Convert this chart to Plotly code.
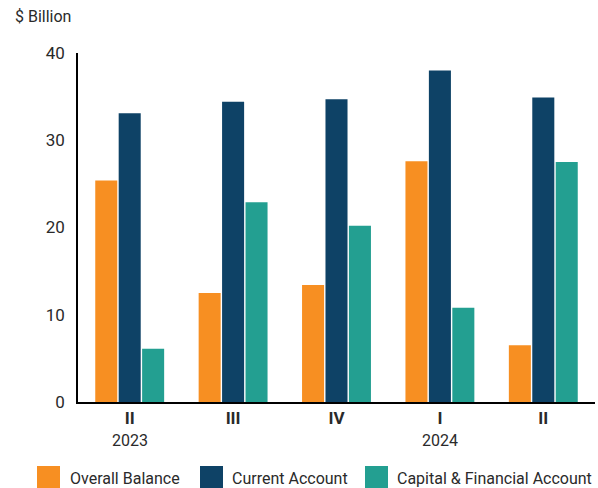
import plotly.graph_objects as go

quarters = ["II", "III", "IV", "I", "II"]
years = ["2023", "", "", "2024", ""]
series_names = ["Overall Balance", "Current Account", "Capital & Financial Account"]
overall_balance = [25.4, 12.5, 13.4, 27.6, 6.5]
current_account = [33.1, 34.4, 34.7, 38.0, 34.9]
capital_financial = [6.1, 22.9, 20.2, 10.8, 27.5]
colors = ["#F78F22", "#0E4266", "#239F91"]
y_ticks = [0, 10, 20, 30, 40]

W, H = 598, 488
ML, MR, MT, MB = 78, 3, 53, 86
PW, PH = W - ML - MR, H - MT - MB

def px_x(p):
    return (p - ML) / PW

def px_y(p):
    return (H - MB - p) / PH

xs = list(range(len(quarters)))
fig = go.Figure()
for name, vals, col in zip(series_names, [overall_balance, current_account, capital_financial], colors):
    fig.add_trace(go.Bar(x=xs, y=vals, name=name, marker=dict(color=col, line=dict(width=0)),
                         showlegend=False))

font_family = "Roboto, 'DejaVu Sans', sans-serif"
txt = "#2a2a2a"
fig.update_layout(
    width=W, height=H,
    margin=dict(l=ML, r=MR, t=MT, b=MB, pad=0),
    paper_bgcolor="white", plot_bgcolor="white",
    barmode="group", bargap=0.32, bargroupgap=0.06,
    font=dict(family=font_family, color=txt),
    showlegend=False,
)
fig.update_xaxes(
    tickmode="array", tickvals=xs, ticktext=["<b>%s</b>" % q for q in quarters],
    range=[-0.5, len(quarters) - 0.5],
    showline=True, linecolor="black", linewidth=2,
    showgrid=False, zeroline=False, ticks="", ticklen=0,
    tickfont=dict(size=17, color=txt),
)
fig.update_yaxes(
    range=[0, 40], tickvals=y_ticks, showline=True, linecolor="black", linewidth=1.5,
    showgrid=False, zeroline=False, ticks="", ticklabelstandoff=8,
    tickfont=dict(size=17, color=txt),
)

annotations = []
for i, yr in enumerate(years):
    if yr:
        annotations.append(dict(x=i, y=0, xref="x", yref="paper", text=yr, showarrow=False,
                                yanchor="middle", yshift=-38, font=dict(size=16, color=txt)))
annotations.append(dict(x=px_x(13), y=px_y(17), xref="paper", yref="paper", text="$ Billion",
                        showarrow=False, xanchor="left", yanchor="middle",
                        font=dict(size=16, color=txt)))

shapes = []
legend_pos = [(37, 68), (200, 230), (365, 395)]
for (sx, tx), name, col in zip(legend_pos, series_names, colors):
    shapes.append(dict(type="rect", xref="paper", yref="paper",
                       x0=px_x(sx), x1=px_x(sx + 23), y0=px_y(466), y1=px_y(489),
                       fillcolor=col, line=dict(width=0)))
    annotations.append(dict(x=px_x(tx), y=px_y(478), xref="paper", yref="paper", text=name,
                            showarrow=False, xanchor="left", yanchor="middle",
                            font=dict(size=16, color=txt)))
fig.update_layout(annotations=annotations, shapes=shapes)

fig.write_html("out.html")
